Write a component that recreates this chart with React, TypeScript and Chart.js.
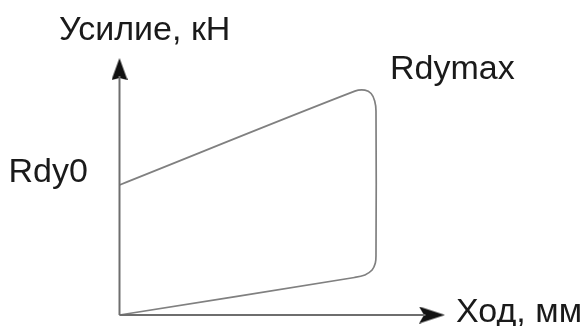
import React, { useEffect, useRef } from "react";
import { Chart, registerables } from "chart.js";
Chart.register(...registerables);

// Loop (force vs stroke) outline
const loopX = [0, 72.3, 75.4, 77.3, 78.4, 78.8, 78.8, 78.6, 77.6, 75.4, 72.2, 0];
const loopY = [50.6, 87.1, 87.5, 86.2, 83.3, 79.4, 23.3, 20.2, 17.5, 15.6, 14.6, 0];

// Axes (data units)
const axisMax = 100;
const yAxisLineEnd = 93;
const xAxisLineEnd = 94;
const yArrowPos = 95.7;
const xArrowPos = 96.0;

// Annotation labels
const labelTexts = ["Усилие, кН", "Rdymax", "Rdy0", "Ход, мм"];
const labelX = [-18.6, 83.1, -9.7, 103.4];
const labelY = [107.0, 91.8, 51.8, -2.7];
const labelAlign: CanvasTextAlign[] = ["left", "left", "right", "left"];

function makeArrow(dir: "up" | "right"): HTMLCanvasElement {
  const c = document.createElement("canvas");
  const ctx = c.getContext("2d")!;
  ctx.fillStyle = "#111";
  if (dir === "up") {
    c.width = 16;
    c.height = 22;
    ctx.fillStyle = "#111";
    ctx.beginPath();
    ctx.moveTo(8, 0);
    ctx.lineTo(16, 22);
    ctx.lineTo(8, 20);
    ctx.lineTo(0, 22);
    ctx.closePath();
    ctx.fill();
  } else {
    c.width = 26;
    c.height = 17;
    ctx.fillStyle = "#111";
    ctx.beginPath();
    ctx.moveTo(26, 8.5);
    ctx.lineTo(0, 0);
    ctx.lineTo(5, 8.5);
    ctx.lineTo(0, 17);
    ctx.closePath();
    ctx.fill();
  }
  return c;
}

const labelPlugin = {
  id: "labels",
  afterDatasetsDraw(chart: any) {
    const { ctx, scales } = chart;
    ctx.save();
    ctx.font = '34px "Liberation Sans", Arial, sans-serif';
    ctx.fillStyle = "#1a1a1a";
    ctx.textBaseline = "alphabetic";
    labelTexts.forEach((t, i) => {
      ctx.textAlign = labelAlign[i];
      ctx.fillText(t, scales.x.getPixelForValue(labelX[i]), scales.y.getPixelForValue(labelY[i]));
    });
    ctx.restore();
  },
};

export default function App() {
  const ref = useRef<HTMLCanvasElement>(null);
  useEffect(() => {
    if (!ref.current) return;
    const upArrow = makeArrow("up");
    const rightArrow = makeArrow("right");
    const chart = new Chart(ref.current, {
      type: "scatter",
      data: {
        datasets: [
          {
            data: [{ x: 0, y: 0 }, { x: 0, y: yAxisLineEnd }],
            showLine: true,
            borderColor: "#6e6e6e",
            borderWidth: 2,
            pointRadius: 0,
            clip: false as any,
          },
          {
            data: [{ x: 0, y: 0 }, { x: xAxisLineEnd, y: 0 }],
            showLine: true,
            borderColor: "#6e6e6e",
            borderWidth: 2,
            pointRadius: 0,
            clip: false as any,
          },
          {
            data: loopX.map((x, i) => ({ x, y: loopY[i] })),
            showLine: true,
            borderColor: "#808080",
            borderWidth: 1.7,
            pointRadius: 0,
            tension: 0.35,
            clip: false as any,
          },
          {
            data: [{ x: 0, y: yArrowPos }],
            pointStyle: upArrow as any,
            pointRadius: 5,
            clip: false as any,
          },
          {
            data: [{ x: xArrowPos, y: 0 }],
            pointStyle: rightArrow as any,
            pointRadius: 5,
            clip: false as any,
          },
        ],
      },
      options: {
        responsive: false,
        animation: false,
        layout: { padding: { left: 119.5, right: 142, top: 58, bottom: 11 } },
        plugins: { legend: { display: false }, tooltip: { enabled: false } },
        scales: {
          x: { type: "linear", min: 0, max: axisMax, display: false },
          y: { type: "linear", min: 0, max: axisMax, display: false },
        },
      },
      plugins: [labelPlugin],
    });
    return () => chart.destroy();
  }, []);
  return (
    <div style={{ position: "absolute", left: 0, top: 0, width: 587, height: 326, background: "#fff" }}>
      <canvas ref={ref} width={587} height={326} />
    </div>
  );
}
